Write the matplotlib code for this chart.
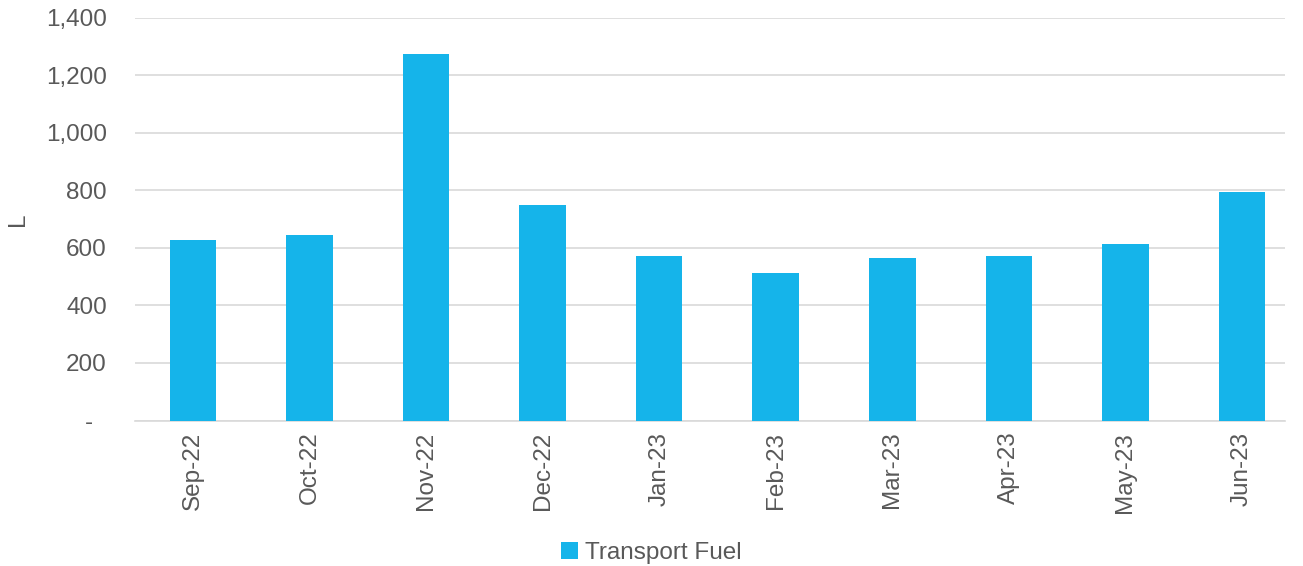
import matplotlib
matplotlib.use("Agg")
import matplotlib.pyplot as plt
from matplotlib.ticker import FuncFormatter

months = ['Sep-22', 'Oct-22', 'Nov-22', 'Dec-22', 'Jan-23',
          'Feb-23', 'Mar-23', 'Apr-23', 'May-23', 'Jun-23']
transport_fuel = [627, 645, 1273, 750, 572, 513, 565, 572, 613, 794]
y_ticks = [0, 200, 400, 600, 800, 1000, 1200, 1400]

plt.rcParams['font.family'] = ['Liberation Sans', 'DejaVu Sans']
text_color = '#595959'
grid_color = '#d9d9d9'
fs = 17.5

fig = plt.figure(figsize=(13.03, 5.66), dpi=100)
ax = fig.add_axes([0.1034, 0.257, 0.8828, 0.7117])

ax.bar(range(len(months)), transport_fuel, width=0.4, color='#15b4ea',
       label='Transport Fuel', zorder=3)

ax.set_xlim(-0.5, len(months) - 0.63)
ax.set_ylim(0, 1400)
ax.set_yticks(y_ticks)
# accounting-style zero shown as a dash, padded like Excel does
ax.yaxis.set_major_formatter(FuncFormatter(lambda v, p: '-  ' if v == 0 else f'{v:,.0f}'))
ax.set_xticks(range(len(months)))
ax.set_xticklabels(months, rotation=90)

ax.grid(axis='y', color=grid_color, linewidth=1.2, zorder=0)
for s in ['top', 'right', 'left']:
    ax.spines[s].set_visible(False)
ax.spines['bottom'].set_color(grid_color)
ax.spines['bottom'].set_linewidth(1.2)
ax.tick_params(axis='both', length=0, labelsize=fs, colors=text_color)
ax.tick_params(axis='y', pad=20)
ax.tick_params(axis='x', pad=8)

ax.set_ylabel('L', fontsize=fs, color=text_color)
ax.yaxis.set_label_coords(-0.092, 0.5)

fig.legend(loc='center', bbox_to_anchor=(0.5, 0.023), frameon=False,
           fontsize=fs, labelcolor=text_color, handlelength=0.7,
           handleheight=0.7, handletextpad=0.3)

fig.savefig('out.png', dpi=100)
